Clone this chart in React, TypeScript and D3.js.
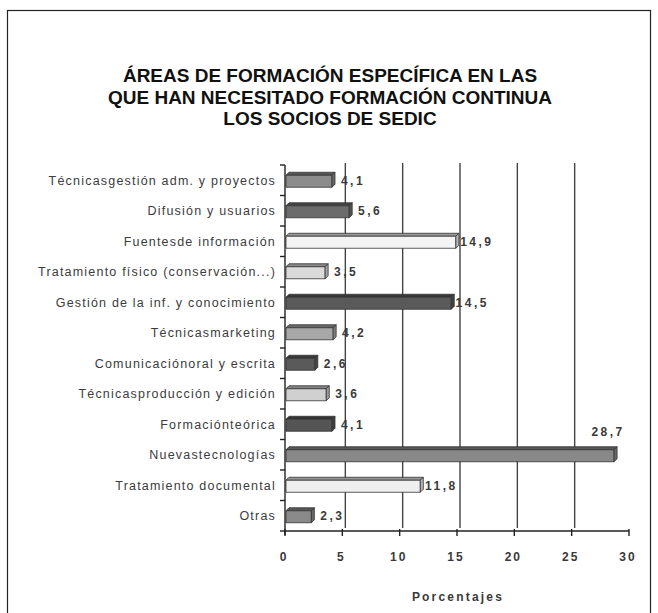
import * as d3 from "d3";

const categories = [
  "Técnicasgestión adm. y proyectos",
  "Difusión y usuarios",
  "Fuentesde información",
  "Tratamiento físico (conservación...)",
  "Gestión de la inf. y conocimiento",
  "Técnicasmarketing",
  "Comunicaciónoral y escrita",
  "Técnicasproducción y edición",
  "Formaciónteórica",
  "Nuevastecnologías",
  "Tratamiento documental",
  "Otras",
];
const values = [4.1, 5.6, 14.9, 3.5, 14.5, 4.2, 2.6, 3.6, 4.1, 28.7, 11.8, 2.3];
const barColors = [
  "#8c8c8c", "#6c6c6c", "#f4f4f4", "#dadada", "#5a5a5a", "#a8a8a8",
  "#5a5a5a", "#d0d0d0", "#555555", "#888888", "#efefef", "#8a8a8a",
];
const xTicks = [0, 5, 10, 15, 20, 25, 30];
const gridTicks = [5, 10, 15, 20, 25];
const titleLines = [
  "ÁREAS DE FORMACIÓN ESPECÍFICA EN LAS",
  "QUE HAN NECESITADO FORMACIÓN CONTINUA",
  "LOS SOCIOS DE SEDIC",
];
const xTitle = "Porcentajes";

const W = 658;
const H = 613;
const plot = { left: 285, right: 629, top: 165, bottom: 531 };
const depth = 3;
const barH = 12;
const font = "'Liberation Sans', Arial, sans-serif";

export default function App() {
  const x = d3.scaleLinear().domain([0, 30]).range([plot.left, plot.right]);
  const y = d3.scaleBand().domain(categories).range([plot.top, plot.bottom]);
  const fmt = (v: number) => d3.format(".1f")(v).replace(".", ",");

  return (
    <svg width={W} height={H} style={{ position: "absolute", left: 0, top: 0, background: "#fff" }}>
      <rect x={7.5} y={10.5} width={643} height={H} fill="#fff" stroke="#222" strokeWidth={1.2} />

      {titleLines.map((t, i) => (
        <text key={t} x={330} y={82 + i * 21.5} textAnchor="middle" fontFamily={font}
          fontWeight="bold" fontSize={19} fill="#111">{t}</text>
      ))}

      {/* grid lines on back wall */}
      {gridTicks.map((t) => (
        <line key={t} x1={x(t) + depth} x2={x(t) + depth} y1={plot.top - 2} y2={plot.bottom - depth}
          stroke="#444" strokeWidth={1.4} />
      ))}

      {/* bars */}
      {categories.map((c, i) => {
        const v = values[i];
        const x0 = x(0) + 1;
        const x1 = x(v);
        const yc = (y(c) ?? 0) + y.bandwidth() / 2;
        const y0 = yc - barH / 2 + 1;
        const col = barColors[i];
        const dark = d3.color(col)!.darker(1.3).formatHex();
        const side = d3.color(col)!.darker(0.8).formatHex();
        return (
          <g key={c} stroke="#333" strokeWidth={0.8} strokeLinejoin="round">
            <polygon fill={dark}
              points={`${x0},${y0} ${x1},${y0} ${x1 + depth},${y0 - depth} ${x0 + depth},${y0 - depth}`} />
            <rect x={x0} y={y0} width={x1 - x0} height={barH} fill={col} />
            <polygon fill={side}
              points={`${x1},${y0} ${x1 + depth},${y0 - depth} ${x1 + depth},${y0 + barH - depth} ${x1},${y0 + barH}`} />
          </g>
        );
      })}

      {/* value labels */}
      {categories.map((c, i) => {
        const v = values[i];
        const yc = (y(c) ?? 0) + y.bandwidth() / 2;
        const above = v > 25;
        return (
          <text key={c} x={above ? x(v) - 6 : x(v) + 21} y={above ? yc - 19 : yc + 4.5}
            textAnchor="middle" fontFamily={font} fontWeight="bold"
            fontSize={12} letterSpacing={2.5} fill="#3a3a3a">{fmt(v)}</text>
        );
      })}

      {/* y axis */}
      <line x1={plot.left} x2={plot.left} y1={plot.top} y2={plot.bottom + 4} stroke="#222" strokeWidth={1.4} />
      {[...categories.map((c) => y(c) ?? 0), plot.bottom].map((ty, i) => (
        <line key={i} x1={plot.left - 5} x2={plot.left} y1={ty} y2={ty} stroke="#222" strokeWidth={1.4} />
      ))}
      {categories.map((c) => (
        <text key={c} x={276} y={(y(c) ?? 0) + y.bandwidth() / 2 + 4.5} textAnchor="end"
          fontFamily={font} fontSize={12.5} letterSpacing={1.2} fill="#3c3c3c">{c}</text>
      ))}

      {/* x axis */}
      <line x1={plot.left} x2={plot.right} y1={plot.bottom} y2={plot.bottom} stroke="#222" strokeWidth={1.4} />
      {xTicks.map((t) => (
        <g key={t}>
          <line x1={x(t)} x2={x(t)} y1={plot.bottom - 2} y2={plot.bottom + 5} stroke="#222" strokeWidth={1.4} />
          <text x={x(t) - 1} y={561} textAnchor="middle" fontFamily={font} fontWeight="bold"
            fontSize={12} letterSpacing={2} fill="#3a3a3a">{t}</text>
        </g>
      ))}
      <text x={458} y={601} textAnchor="middle" fontFamily={font} fontWeight="bold"
        fontSize={12} letterSpacing={2.2} fill="#3a3a3a">{xTitle}</text>
    </svg>
  );
}
